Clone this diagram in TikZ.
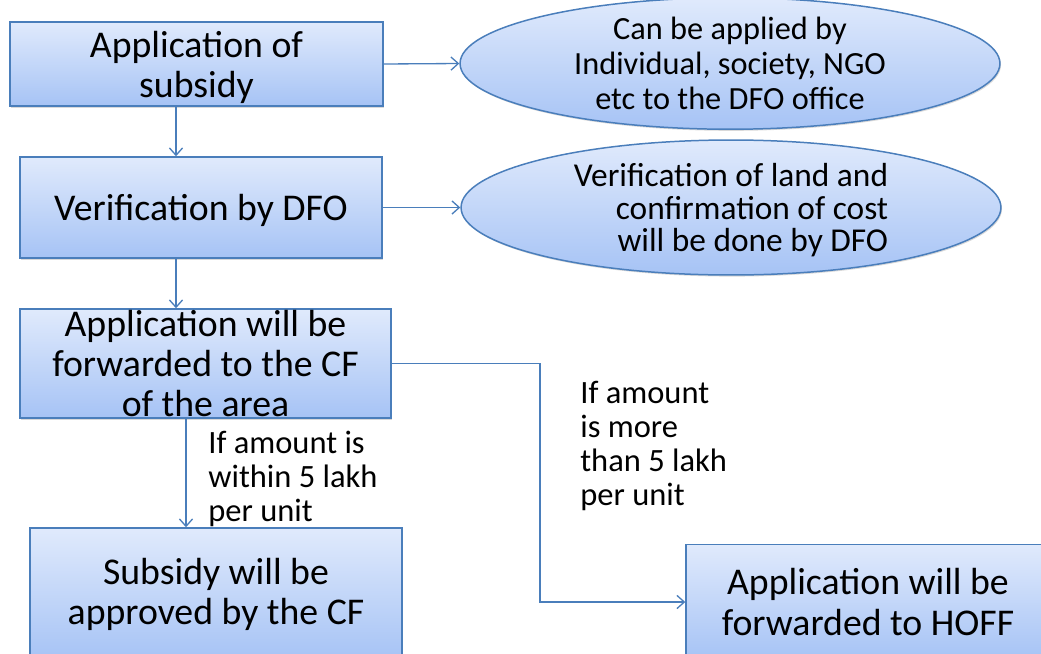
\documentclass[tikz,border=0pt]{standalone}
\usepackage{fontspec}
\setmainfont{Carlito}
\usepackage{xcolor}
\definecolor{colLine}{HTML}{4A7EBB}
\definecolor{colTop}{HTML}{E0EAFC}
\definecolor{colBottom}{HTML}{A6C3F5}
\usepackage{tikz}
\usetikzlibrary{arrows.meta, positioning, shapes.geometric, shadows}

\tikzset{
    box/.style={draw=colLine, line width=0.85pt, top color=colTop, bottom color=colBottom,
        drop shadow={opacity=0.3, shadow xshift=0.6pt, shadow yshift=-0.9pt},
        align=center, inner sep=0pt, font=\fontsize{21.5}{22.8}\selectfont},
    oval/.style={ellipse, draw=colLine, line width=0.85pt, top color=colTop, bottom color=colBottom,
        drop shadow={opacity=0.3, shadow xshift=0.6pt, shadow yshift=-0.9pt},
        inner sep=0pt},
    lbl/.style={align=left, inner sep=0pt, anchor=north west, font=\fontsize{18.5}{19.3}\selectfont},
    conn/.style={draw=colLine, line width=0.75pt, -{Straight Barb[length=4.2pt, width=7.5pt]}}
}

\begin{document}
\begin{tikzpicture}[x=0.02cm, y=-0.02cm]
    \useasboundingbox (0,0) rectangle (1041,653);
    % Colonna sinistra
    \node[box, minimum width=7.46cm, minimum height=1.68cm, text depth=0pt] (apply) at (196.5,64) {Application of\\subsidy};
    \node[box, minimum width=7.24cm, minimum height=2.02cm, text depth=0pt] (verify) at (201,207.5) {Verification by DFO};
    \node[box, minimum width=7.42cm, minimum height=2.18cm] (forward) at (205.5,363.5) {Application will be\\forwarded to the CF\\of the area};
    \node[box, minimum width=7.44cm, minimum height=2.64cm] (approve) at (216,594) {Subsidy will be\\approved by the CF};
    \node[box, minimum width=7.28cm, minimum height=2.30cm] (hoff) at (868,602) {Application will be\\forwarded to HOFF};
    % Ellissi
    \node[oval, minimum width=10.8cm, minimum height=2.34cm, align=center,
          font=\fontsize{18.4}{20}\selectfont] (who) at (730,63.5)
          {Can be applied by\\Individual, society, NGO\\etc to the DFO office};
    \node[oval, minimum width=10.8cm, minimum height=2.70cm, align=right, text depth=0pt,
          font=\fontsize{19}{18.4}\selectfont] (check) at (731,207.5)
          {Verification of land and\\confirmation of cost\\will be done by DFO};
    % Condizioni
    \node[lbl] (within) at (208,431) {If amount is\\within 5 lakh\\per unit};
    \node[lbl] (more) at (580,381) {If amount\\is more\\than 5 lakh\\per unit};
    % Frecce
    \coordinate (xa) at (176,0);
    \coordinate (xb) at (186,0);
    \coordinate (bend) at (540,480);
    \draw[conn] (apply.east) -- (who.west);
    \draw[conn] (verify.east) -- (check.west);
    \draw[conn] (apply.south -| xa) -- (verify.north -| xa);
    \draw[conn] (verify.south -| xa) -- (forward.north -| xa);
    \draw[conn] (forward.south -| xb) -- (approve.north -| xb);
    \draw[conn] (forward.east) -| (bend) |- (hoff.west);
\end{tikzpicture}
\end{document}
